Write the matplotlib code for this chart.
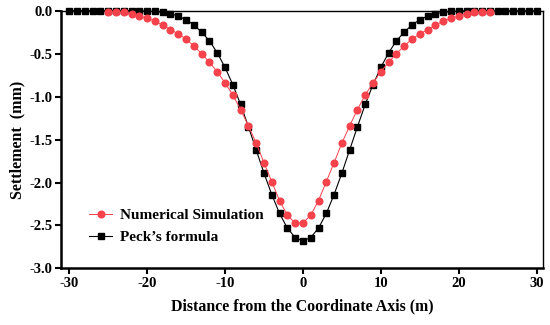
import matplotlib.pyplot as plt

RED = '#f5424b'
BLACK = 'black'

# Peck's formula, x from -30 to 30 (m)
peck_x = list(range(-30, 31))
peck_y = [0, 0, 0, 0, 0, 0, 0, 0, 0, 0,
          -0.004, -0.009, -0.019, -0.035, -0.062, -0.105, -0.165, -0.25,
          -0.35, -0.49, -0.66, -0.86, -1.09, -1.35, -1.62, -1.89, -2.14,
          -2.36, -2.53, -2.64, -2.68, -2.64, -2.53, -2.36, -2.14, -1.89,
          -1.62, -1.35, -1.09, -0.86, -0.66, -0.49, -0.35, -0.25, -0.165,
          -0.105, -0.062, -0.035, -0.019, -0.009, -0.004,
          0, 0, 0, 0, 0, 0, 0, 0, 0, 0]

# numerical simulation, x from -25 to 24 (m)
sim_x = list(range(-25, 25))
sim_y = [-0.01, -0.015, -0.02, -0.04, -0.06, -0.09, -0.12, -0.17, -0.22,
         -0.27, -0.33, -0.41, -0.50, -0.60, -0.71, -0.84, -0.98, -1.15,
         -1.34, -1.54, -1.77, -1.99, -2.21, -2.38, -2.47, -2.47, -2.38,
         -2.21, -1.99, -1.77, -1.54, -1.34, -1.15, -0.98, -0.84, -0.71,
         -0.60, -0.50, -0.41, -0.33, -0.27, -0.22, -0.17, -0.12, -0.09,
         -0.06, -0.04, -0.02, -0.015, -0.01]

x_ticks = [-30, -20, -10, 0, 10, 20, 30]
y_ticks = [0.0, -0.5, -1.0, -1.5, -2.0, -2.5, -3.0]

plt.rcParams['font.family'] = 'Liberation Serif'
plt.rcParams['font.weight'] = 'bold'
plt.rcParams['axes.unicode_minus'] = False

fig = plt.figure(figsize=(5.5, 3.25), dpi=100)
ax = fig.add_axes([0.111, 0.174, 0.876, 0.793])

ax.plot(peck_x, peck_y, color=BLACK, marker='s', markersize=4.4,
        linewidth=0.8, clip_on=False, zorder=3, label="Peck\u2019s formula")
ax.plot(sim_x, sim_y, color=RED, marker='o', markersize=4.8,
        linewidth=0.7, clip_on=False, zorder=4, label='Numerical Simulation')

ax.set_xlim(-31.05, 30.8)
ax.set_ylim(-3.0, 0.0)
ax.set_xticks(x_ticks)
ax.set_yticks(y_ticks)
ax.set_yticklabels([f'{v:.1f}' for v in y_ticks])

for side in ['left', 'bottom']:
    ax.spines[side].set_linewidth(1.8)
for side in ['top', 'right']:
    ax.spines[side].set_linewidth(1.0)

ax.tick_params(axis='both', direction='out', length=4, width=1.5,
               labelsize=10.5, pad=2)

ax.set_xlabel('Distance from the Coordinate Axis (m)', fontsize=11.4,
              fontweight='bold', labelpad=6)
ax.set_ylabel('Settlement  (mm)', fontsize=11.5, fontweight='bold',
              labelpad=3)

handles, labels = ax.get_legend_handles_labels()
ax.legend(handles[::-1], labels[::-1], loc='lower left',
          bbox_to_anchor=(0.03, 0.04), frameon=False, fontsize=11,
          handlelength=1.5, handletextpad=0.5, labelspacing=0.55)

plt.savefig('out.png', dpi=100)
